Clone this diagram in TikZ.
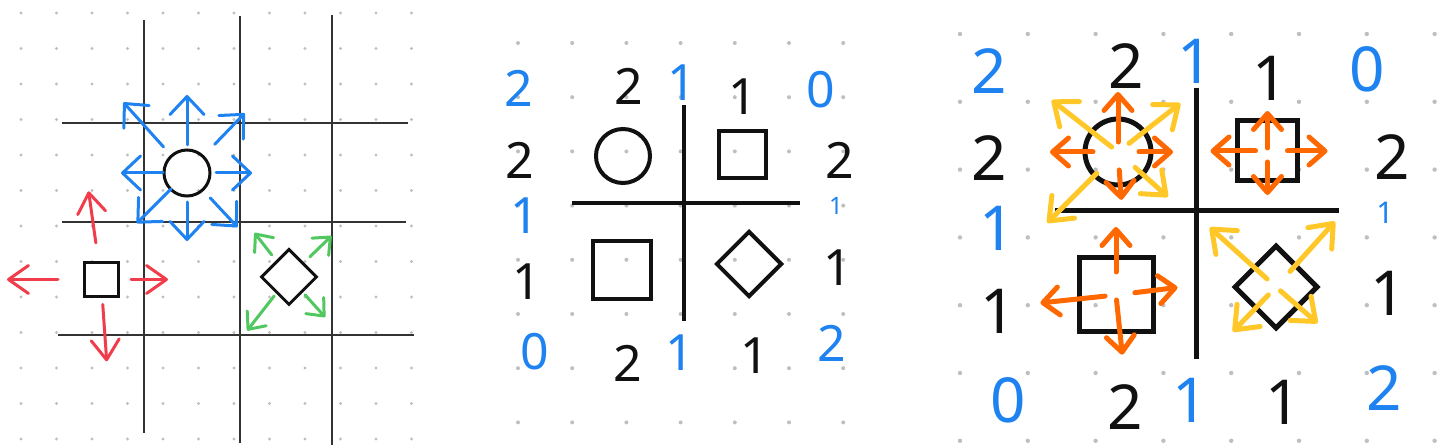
\documentclass[tikz,border=0pt]{standalone}
\usepackage{fontspec}
\setsansfont{Noto Sans}
\usepackage{tikz}
\usetikzlibrary{arrows.meta,calc,shapes.geometric}
\definecolor{penBlue}{RGB}{30,130,240}
\definecolor{penRed}{RGB}{240,60,75}
\definecolor{penGreen}{RGB}{80,200,95}
\definecolor{penOrange}{RGB}{255,104,0}
\definecolor{penYellow}{RGB}{255,200,40}
\definecolor{penInk}{RGB}{17,17,17}

\begin{document}
\begin{tikzpicture}[
  x=0.5pt, y=-0.5pt,
  dot/.style={fill=black!25},
  shp/.style={draw=penInk, inner sep=0pt, line width=1.5pt},
  ln/.style={draw=penInk, line width=2pt},
  digM/.style={font=\sffamily\fontsize{25}{25}\selectfont, inner sep=0pt},
  digR/.style={font=\sffamily\fontsize{31}{31}\selectfont, inner sep=0pt},
  blu/.style={draw=penBlue, line width=1.5pt, line cap=round,
              -{Straight Barb[length=9pt,width=17pt,round]}},
  rd/.style={draw=penRed, line width=1.5pt, line cap=round,
             -{Straight Barb[length=10pt,width=14pt,round]}},
  grn/.style={draw=penGreen, line width=1.5pt, line cap=round,
              -{Straight Barb[length=7pt,width=12pt,round]}},
  org/.style={draw=penOrange, line width=2.5pt, line cap=round,
              -{Straight Barb[length=8pt,width=14pt,round]}},
  yel/.style={draw=penYellow, line width=2.5pt, line cap=round,
              -{Straight Barb[length=10pt,width=16pt,round]}},
]
\useasboundingbox[fill=white] (0,0) rectangle (1447,448);

% ---------- dotted paper ----------
\foreach \i in {0,...,11} \foreach \j in {0,...,12}
  \fill[dot] ({21+35.5*\i},{13+35.5*\j}) circle (1.6);
\foreach \i in {0,...,6} \foreach \j in {0,...,7}
  \fill[dot] ({518+54.2*\i},{43+54.2*\j}) circle (2);
\foreach \i in {0,...,7} \foreach \j in {0,...,6}
  \fill[dot] ({960+67.8*\i},{34+67.8*\j}) circle (2.2);

% ---------- left: moves on the grid ----------
\draw[ln, line width=1pt, draw=black!80] (144,20) -- (144,433) (240,16) -- (240,443)
  (332,15) -- (332,445);
\draw[ln, line width=1pt, draw=black!80] (62,123) -- (408,123) (62,222) -- (406,222)
  (58,335) -- (414,335);

\node[shp, circle, minimum size=23pt] (lcirc) at (187,173) {};
\node[shp, minimum size=17pt] (lsq) at (101,279.5) {};
\node[shp, diamond, minimum size=28pt] (ldia) at (289,277) {};

\foreach \a/\s/\e in {270/28/78, 228/35/95, 314/40/83, 180/24/66,
                      0/29/65, 135/23/71, 90/29/68, 47/34/74}
  \draw[blu] ($(lcirc)+(\a:\s)$) -- ($(lcirc)+(\a:\e)$);
\foreach \a/\s/\e in {262/37/89, 180/43/94, 0/30/67, 86/25/82}
  \draw[rd] ($(lsq)+(\a:\s)$) -- ($(lsq)+(\a:\e)$);
\foreach \a/\s/\e in {232/28/56, 316/29/59, 128/24/68, 48/24/54}
  \draw[grn] ($(ldia)+(\a:\s)$) -- ($(ldia)+(\a:\e)$);

% ---------- middle: the puzzle ----------
\draw[ln] (684,105) -- (684,321) (572,203) -- (800,203);
\node[shp, circle, line width=2pt, minimum size=27pt] (mcirc) at (623,156) {};
\node[shp, line width=2pt, minimum size=23.5pt] (msqa) at (742,154.5) {};
\node[shp, line width=2pt, minimum size=29pt] (msqb) at (621.5,270) {};
\node[shp, diamond, line width=2pt, minimum size=33pt] (mdia) at (749,264) {};

\foreach \n/\x/\y/\col/\t in {t1/519/88/penBlue/2, t2/629/86/penInk/2,
    t3/682/83/penBlue/1, t4/743/97/penInk/1, t5/821/90/penBlue/0,
    l1/520/160/penInk/2, l2/525/216/penBlue/1, l3/527/282/penInk/1,
    l4/535/352/penBlue/0, r1/840/160/penInk/2, r3/838/268/penInk/1,
    r4/832/343/penBlue/2, b1/628/363/penInk/2, b2/680/353/penBlue/1,
    b3/755/356/penInk/1}
  \node[digM, text=\col] (m\n) at (\x,\y) {\t};
\node[digM, font=\sffamily\fontsize{12}{12}\selectfont, text=penBlue] (mr2) at (836,206) {1};

% ---------- right: the puzzle with its moves ----------
\draw[ln, line width=2.5pt] (1196,88) -- (1196,359) (1055,211) -- (1339,211);
\node[shp, circle, line width=2.5pt, minimum size=33pt] (rcirc) at (1118,152) {};
\node[shp, line width=2.5pt, minimum size=30pt] (rsqa) at (1267.5,151) {};
\node[shp, line width=2.5pt, minimum size=37pt] (rsqb) at (1116,295) {};
\node[shp, diamond, line width=2.5pt, minimum size=42pt] (rdia) at (1276,287) {};

\foreach \a/\s/\e in {218/8/84, 322/14/79, 135/30/100, 42/23/67}
  \draw[yel] ($(rcirc)+(\a:\s)$) -- ($(rcirc)+(\a:\e)$);
\foreach \a/\s/\e in {270/10/60, 180/25/68, 0/21/55, 86/18/48}
  \draw[org] ($(rcirc)+(\a:\s)$) -- ($(rcirc)+(\a:\e)$);
\foreach \a/\s/\e in {270/3/40, 180/12/57, 0/20/60, 90/11/44}
  \draw[org] ($(rsqa)+(\a:\s)$) -- ($(rsqa)+(\a:\e)$);
\foreach \a/\s/\e in {270/23/68, 174/11/76, 353/19/62, 84/5/60}
  \draw[org] ($(rsqb)+(\a:\s)$) -- ($(rsqb)+(\a:\e)$);
\foreach \a/\s/\e in {222/12/89, 312/21/88, 134/11/62, 41/6/55}
  \draw[yel] ($(rdia)+(\a:\s)$) -- ($(rdia)+(\a:\e)$);

\foreach \n/\x/\y/\col/\t in {t1/989/71/penBlue/2, t2/1126/66/penInk/2,
    t3/1195/61/penBlue/1, t4/1270/78/penInk/1, t5/1367/69/penBlue/0,
    l1/989/158/penInk/2, l2/997/228/penBlue/1, l3/998/311/penInk/1,
    l4/1008/400/penBlue/0, r1/1392/157/penInk/2, r3/1388/293/penInk/1,
    r4/1384/388/penBlue/2, b1/1125/407/penInk/2, b2/1190/400/penBlue/1,
    b3/1283/402/penInk/1}
  \node[digR, text=\col] (r\n) at (\x,\y) {\t};
\node[digR, font=\sffamily\fontsize{15}{15}\selectfont, text=penBlue] (rr2) at (1385,213) {1};
\end{tikzpicture}
\end{document}
